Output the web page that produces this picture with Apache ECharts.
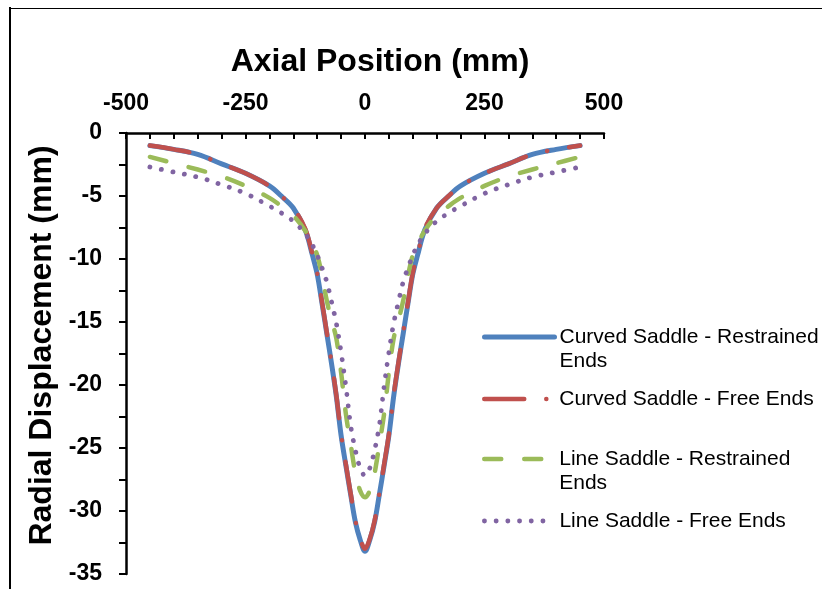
<!DOCTYPE html>
<html>
<head>
<meta charset="utf-8">
<title>Radial Displacement vs Axial Position</title>
<script src="https://cdn.jsdelivr.net/npm/echarts@6/dist/echarts.min.js"></script>
<style>
  html, body { margin: 0; padding: 0; background: #fff; }
  #chart { width: 822px; height: 589px; }
</style>
</head>
<body>
<div id="chart"></div>
<script>
// Axial positions (mm) at which the radial displacement is sampled
const axialPosition = [
  -450, -400, -350, -300, -250, -200, -175, -150, -125, -110, -100, -90, -80, -70, -60, -50, -40, -30, -20, -10,
  0,
  10, 20, 30, 40, 50, 60, 70, 80, 90, 100, 110, 125, 150, 175, 200, 250, 300, 350, 400, 450
];

// Radial displacement (mm) for each configuration
const curvedRestrained = [
  -1.0, -1.3, -1.7, -2.45, -3.2, -4.2, -5.0, -5.95, -7.7, -9.7, -11.2, -13.5, -15.9, -18.3, -20.9, -24.0, -26.4, -28.7, -30.9, -32.3,
  -33.2,
  -32.3, -30.9, -28.7, -26.4, -24.0, -20.9, -18.3, -15.9, -13.5, -11.2, -9.7, -7.7, -5.95, -5.0, -4.2, -3.2, -2.45, -1.7, -1.3, -1.0
];
const curvedFree = [
  -1.0, -1.3, -1.7, -2.45, -3.2, -4.2, -5.0, -5.95, -7.6, -9.6, -11.1, -13.4, -15.8, -18.2, -20.8, -23.9, -26.3, -28.6, -30.8, -32.2,
  -33.0,
  -32.2, -30.8, -28.6, -26.3, -23.9, -20.8, -18.2, -15.8, -13.4, -11.1, -9.6, -7.6, -5.95, -5.0, -4.2, -3.2, -2.45, -1.7, -1.3, -1.0
];
const lineRestrained = [
  -1.9, -2.4, -2.9, -3.45, -4.2, -5.15, -5.8, -6.55, -7.75, -8.85, -9.7, -11.3, -13.3, -14.85, -16.3, -19.0, -22.3, -24.7, -27.0, -28.4,
  -28.9,
  -28.4, -27.0, -24.7, -22.3, -19.0, -16.3, -14.85, -13.3, -11.3, -9.7, -8.85, -7.75, -6.55, -5.8, -5.15, -4.2, -3.45, -2.9, -2.4, -1.9
];
const lineFree = [
  -2.7, -3.1, -3.5, -4.1, -4.8, -5.8, -6.35, -7.0, -8.0, -8.9, -9.7, -10.7, -11.8, -13.4, -15.1, -17.4, -20.1, -23.2, -25.2, -26.6,
  -27.2,
  -26.6, -25.2, -23.2, -20.1, -17.4, -15.1, -13.4, -11.8, -10.7, -9.7, -8.9, -8.0, -7.0, -6.35, -5.8, -4.8, -4.1, -3.5, -3.1, -2.7
];

const seriesNames = [
  'Curved Saddle - Restrained Ends',
  'Curved Saddle - Free Ends',
  'Line Saddle - Restrained Ends',
  'Line Saddle - Free Ends'
];
// Legend text as it wraps; a blank first line keeps the icon level with the first text line
const legendLines = [
  [' ', 'Curved Saddle - Restrained', 'Ends'],
  ['Curved Saddle - Free Ends'],
  [' ', 'Line Saddle - Restrained', 'Ends'],
  ['Line Saddle - Free Ends']
];

// Axis ticks every 50 mm / 2.5 mm, labels every 250 mm / 5 mm
const xLabelStep = 250;
const yLabelStep = 5;

const FONT = '"Liberation Sans", Arial, sans-serif';

const lineStyles = [
  { color: '#4F81BD', width: 5,   type: 'solid' },
  { color: '#C0504D', width: 4.5, type: [40, 22, 0.1, 22] },
  { color: '#9BBB59', width: 4.5, type: [17, 23] },
  { color: '#8064A2', width: 4.8, type: [0.1, 11.6] }
];
const valueSets = [curvedRestrained, curvedFree, lineRestrained, lineFree];
const legendTops = [301, 387, 423, 509];

const series = valueSets.map((vals, i) => ({
  name: seriesNames[i],
  type: 'line',
  data: axialPosition.map((x, k) => [x, vals[k]]),
  symbol: 'none',
  showSymbol: false,
  smooth: 0.35,
  z: 2 + i,
  lineStyle: {
    color: lineStyles[i].color,
    width: lineStyles[i].width,
    type: lineStyles[i].type,
    cap: 'round',
    join: 'round'
  },
  itemStyle: { color: lineStyles[i].color }
}));

const legends = seriesNames.map((name, i) => ({
  left: 482,
  top: legendTops[i],
  padding: 0,
  orient: 'vertical',
  itemWidth: 70,
  itemHeight: 14,
  selectedMode: false,
  data: [name],
  formatter: () => legendLines[i].join('\n'),
  itemStyle: { opacity: 0 },
  lineStyle: {
    color: lineStyles[i].color,
    width: lineStyles[i].width,
    type: lineStyles[i].type,
    cap: 'round'
  },
  textStyle: {
    fontFamily: FONT,
    fontSize: 21,
    lineHeight: 24,
    color: '#000'
  }
}));

const chart = echarts.init(document.getElementById('chart'), null, { renderer: 'canvas' });
chart.setOption({
  animation: false,
  backgroundColor: '#fff',
  title: {
    text: 'Axial Position (mm)',
    left: 380,
    top: 46,
    padding: 0,
    textAlign: 'center',
    textStyle: { fontFamily: FONT, fontSize: 32, fontWeight: 'bold', color: '#000' }
  },
  grid: { left: 126, right: 218, top: 133, bottom: 15, containLabel: false },
  xAxis: {
    type: 'value',
    position: 'top',
    min: -500,
    max: 500,
    interval: 50,
    axisLine: { onZero: false, lineStyle: { color: '#000', width: 2.5 } },
    axisTick: { inside: true, length: 6, lineStyle: { color: '#000', width: 2 } },
    splitLine: { show: false },
    axisLabel: {
      margin: 18,
      color: '#000',
      fontFamily: FONT,
      fontSize: 23,
      fontWeight: 'bold',
      formatter: v => (v % xLabelStep === 0 ? String(v) : '')
    }
  },
  yAxis: {
    type: 'value',
    min: -35,
    max: 0,
    interval: 2.5,
    name: 'Radial Displacement (mm)',
    nameLocation: 'middle',
    nameRotate: 90,
    nameGap: 51,
    nameTextStyle: {
      fontFamily: FONT, fontSize: 32, fontWeight: 'bold', color: '#000',
      padding: [0, 0, 0, 16]
    },
    axisLine: { onZero: false, lineStyle: { color: '#000', width: 2.5 } },
    axisTick: { inside: false, length: 7, lineStyle: { color: '#000', width: 2 } },
    splitLine: { show: false },
    axisLabel: {
      margin: 24,
      color: '#000',
      fontFamily: FONT,
      fontSize: 23,
      fontWeight: 'bold',
      formatter: v => (v % yLabelStep === 0 ? String(v) : '')
    }
  },
  legend: legends,
  graphic: [
    { type: 'line', silent: true, shape: { x1: 10, y1: 7, x2: 10, y2: 600 }, style: { stroke: '#000', lineWidth: 2 } },
    { type: 'line', silent: true, shape: { x1: 9, y1: 8.5, x2: 830, y2: 8.5 }, style: { stroke: '#000', lineWidth: 1 } }
  ],
  series: series
});
</script>
</body>
</html>
